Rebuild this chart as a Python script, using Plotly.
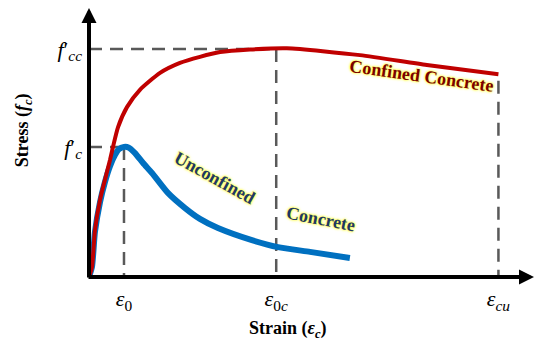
import plotly.graph_objects as go

# Stress-strain curves for unconfined and confined concrete (strain in 1e-3, stress in MPa)
unconf_strain = [0, 0.17, 0.34, 0.63, 0.91, 1.2, 1.49, 1.71, 2.0, 2.25, 2.63, 3.09,
                 3.6, 4.51, 5.49, 6.34, 7.37, 9.31, 10.8, 12.63, 14.91]
unconf_stress = [0, 2.3, 10.4, 17.3, 21.9, 25.6, 28.2, 29.5, 30.0, 29.9, 28.6, 26.3,
                 24.0, 19.4, 15.9, 13.4, 11.3, 8.5, 6.9, 5.8, 4.4]

conf_strain = [0, 0.17, 0.34, 0.63, 0.91, 1.2, 1.37, 1.66, 2.17, 2.91, 4.06, 5.2,
               6.34, 7.49, 9.2, 11.31, 15.49, 19.31, 23.4]
conf_stress = [0, 2.3, 10.8, 17.8, 22.4, 27.0, 30.0, 34.6, 39.2, 43.2, 47.1, 49.4,
               50.8, 51.9, 52.5, 52.8, 51.2, 48.9, 46.8]

# Characteristic points
EPS_0 = 2.0
EPS_0C = 10.7
EPS_CU = 23.4
F_C = 30.0
F_CC = 52.6

x_ticks = [EPS_0, EPS_0C, EPS_CU]
x_tick_text = ["<i>ε</i><sub>0</sub>", "<i>ε</i><sub>0<i>c</i></sub>", "<i>ε</i><sub><i>cu</i></sub>"]
y_ticks = [F_C, F_CC]
y_tick_text = ["<i>f</i>′<sub><i>c</i></sub>", "<i>f</i>′<sub><i>cc</i></sub>"]

X_MAX = 25.49
Y_MAX = 63.92
SERIF = "Liberation Serif"
RED = "#c00000"
BLUE = "#0070c0"
GREY = "#595959"
GLOW = "0 0 3px #ffff60, 0 0 3px #ffff60, 0 0 2px #ffff60, 0 0 1px #ffff60"

fig = go.Figure()

fig.add_trace(go.Scatter(x=unconf_strain, y=unconf_stress, mode="lines",
                         line=dict(color=BLUE, width=6, shape="spline", smoothing=0.6),
                         hoverinfo="skip", showlegend=False))
fig.add_trace(go.Scatter(x=conf_strain, y=conf_stress, mode="lines",
                         line=dict(color=RED, width=4, shape="spline", smoothing=0.6),
                         hoverinfo="skip", showlegend=False))

dash = dict(color=GREY, width=2.5, dash="13px,8px")
end_stress = conf_stress[-1]
guides = [
    (0, F_CC, EPS_0C, F_CC),
    (EPS_0C, F_CC, EPS_0C, 0),
    (0, F_C, EPS_0, F_C),
    (EPS_0, F_C, EPS_0, 0),
    (EPS_CU, end_stress - 1.5, EPS_CU, 0),
]
for x0, y0, x1, y1 in guides:
    fig.add_shape(type="line", x0=x0, y0=y0, x1=x1, y1=y1, xref="x", yref="y",
                  line=dash, layer="below")

# Axis arrows (x arrow in paper units so its head may sit at the plot edge)
head = dict(text="", showarrow=True, arrowhead=2, arrowsize=0.75, arrowwidth=4,
            arrowcolor="black", standoff=0)
fig.add_annotation(x=1.009, y=0, xref="paper", yref="paper",
                   axref="pixel", ayref="pixel", ax=-452, ay=0, **head)
fig.add_annotation(x=0, y=62.1, xref="x", yref="y", axref="x", ayref="y",
                   ax=0, ay=-0.45, **head)

# Curve labels
fig.add_annotation(x=19.03, y=46.4, text="<b>Confined Concrete</b>", showarrow=False,
                   textangle=8, font=dict(family=SERIF, size=18, color="#7b0000", shadow=GLOW))
fig.add_annotation(x=7.2, y=22.8, text="<b>Unconfined</b>", showarrow=False,
                   textangle=29, font=dict(family=SERIF, size=18, color="#1f3864", shadow=GLOW))
fig.add_annotation(x=13.26, y=13.4, text="<b>Concrete</b>", showarrow=False,
                   textangle=11, font=dict(family=SERIF, size=18, color="#1f3864", shadow=GLOW))

# Axis titles
fig.add_annotation(x=-0.148, y=0.53, xref="paper", yref="paper", showarrow=False,
                   xanchor="center", yanchor="middle",
                   text="<b>Stress (<i>f</i><sub><i>c</i></sub>)</b>", textangle=-90,
                   font=dict(family=SERIF, size=18, color="black"))
fig.add_annotation(x=0.444, y=-0.188, xref="paper", yref="paper", showarrow=False,
                   xanchor="center", yanchor="middle",
                   text="<b>Strain (<i>ε</i><sub><i>c</i></sub>)</b>",
                   font=dict(family=SERIF, size=18, color="black"))

fig.update_xaxes(range=[0, X_MAX], showgrid=False, zeroline=False, showline=False,
                 tickvals=x_ticks, ticktext=x_tick_text, ticks="", ticklabelstandoff=6,
                 tickfont=dict(family=SERIF, size=22, color="black"), fixedrange=True)
fig.update_yaxes(range=[0, Y_MAX], showgrid=False, zeroline=False, showline=False,
                 tickvals=y_ticks, ticktext=y_tick_text, ticks="", ticklabelstandoff=6,
                 tickfont=dict(family=SERIF, size=22, color="black"), fixedrange=True)

fig.update_layout(width=535, height=344, margin=dict(l=89, r=0, t=0, b=67),
                  plot_bgcolor="white", paper_bgcolor="white", showlegend=False)

fig.write_html("out.html", config={"displayModeBar": False})
